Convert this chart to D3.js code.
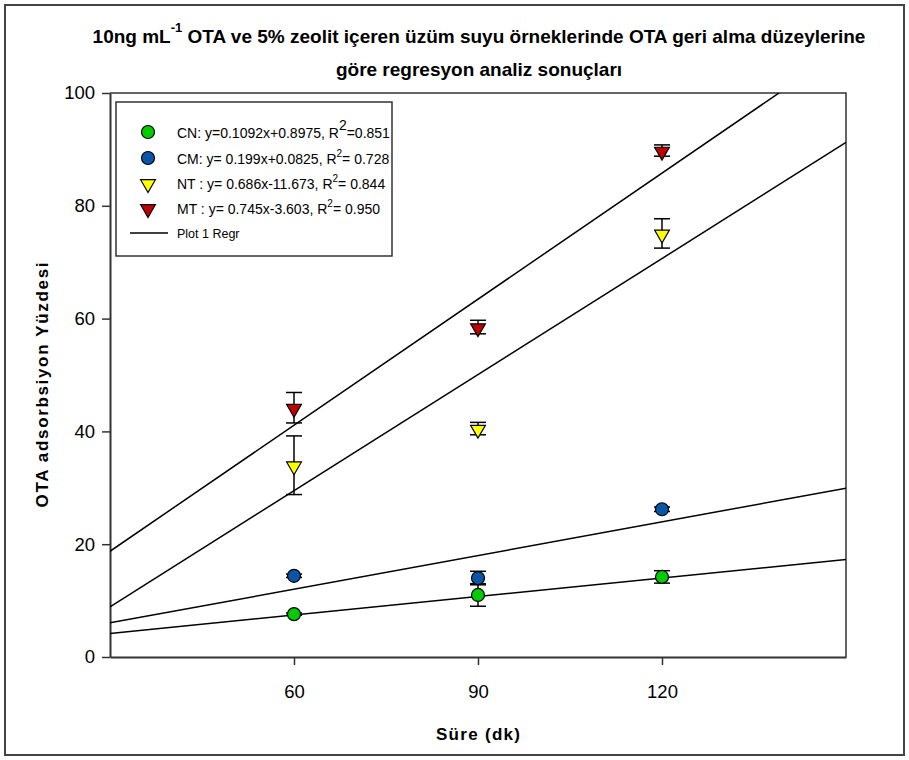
<!DOCTYPE html>
<html>
<head>
<meta charset="utf-8">
<script src="https://cdn.jsdelivr.net/npm/d3@7"></script>
<style>
  body { margin: 0; background: #fff; }
  svg { display: block; font-family: "Liberation Sans", Arial, sans-serif; }
</style>
</head>
<body>
<div id="chart"></div>
<script>
// sampling times (dk)
const times = [60, 90, 120];
const xTicks = [60, 90, 120];
const yTicks = [0, 20, 40, 60, 80, 100];

// mean recovery (%) and error per series
const cnMean = [7.6, 11.0, 14.2];
const cnErr  = [0.2, 2.0, 1.1];
const cmMean = [14.4, 14.0, 26.2];
const cmErr  = [0.3, 1.2, 0.4];
const ntMean = [34.0, 40.5, 75.1];
const ntErr  = [5.2, 1.1, 2.6];
const mtMean = [44.2, 58.5, 89.8];
const mtErr  = [2.7, 1.2, 1.0];

// regression lines from the legend
const slopes     = [0.1092, 0.199, 0.686, 0.745];
const intercepts = [0.8975, 0.0825, -11.673, -3.603];

const names  = ["CN", "CM", "NT", "MT"];
const eqText = ["CN: y=0.1092x+0.8975, R", "CM: y= 0.199x+0.0825, R", "NT : y= 0.686x-11.673, R", "MT :  y= 0.745x-3.603, R"];
const r2Text = ["=0.851", "= 0.728", "= 0.844", "= 0.950"];

var W = 909, H = 760;
var svg = d3.select("#chart").append("svg")
  .attr("width", W).attr("height", H);

// outer frame
svg.append("rect")
  .attr("x", 5).attr("y", 5).attr("width", W - 10).attr("height", H - 10)
  .attr("fill", "none").attr("stroke", "#444").attr("stroke-width", 2);

var x = d3.scaleLinear().domain([30, 150]).range([110, 846]);
var y = d3.scaleLinear().domain([0, 100]).range([657, 93]);

var series = [
  {name: "CN", mean: cnMean, err: cnErr, shape: "circle", fill: "#00cc00"},
  {name: "CM", mean: cmMean, err: cmErr, shape: "circle", fill: "#0a55a5"},
  {name: "NT", mean: ntMean, err: ntErr, shape: "tri", fill: "#ffff00"},
  {name: "MT", mean: mtMean, err: mtErr, shape: "tri", fill: "#c00000"}
];

// title
var title = svg.append("text")
  .attr("x", 479).attr("y", 43)
  .attr("text-anchor", "middle")
  .style("font-weight", "bold").style("font-size", "19px");
title.append("tspan").text("10ng mL");
title.append("tspan").attr("dy", -11).style("font-size", "13px").text("-1");
title.append("tspan").attr("dy", 11).text(" OTA ve 5% zeolit içeren üzüm suyu örneklerinde OTA geri alma düzeylerine");
svg.append("text")
  .attr("x", 479).attr("y", 76)
  .attr("text-anchor", "middle")
  .style("font-weight", "bold").style("font-size", "19px")
  .text("göre regresyon analiz sonuçları");

// clip for regression lines
svg.append("clipPath").attr("id", "plotclip")
  .append("rect").attr("x", 110).attr("y", 93).attr("width", 736).attr("height", 564);

// top and right frame of plot
svg.append("path")
  .attr("d", "M" + x(30) + "," + y(100) + "H" + x(150) + "V" + y(0))
  .attr("fill", "none").attr("stroke", "#333").attr("stroke-width", 1.5);

// axes
var xAxis = svg.append("g")
  .attr("transform", "translate(0," + y(0) + ")")
  .call(d3.axisBottom(x).tickValues(xTicks).tickSize(8).tickPadding(20).tickSizeOuter(0));
var yAxis = svg.append("g")
  .attr("transform", "translate(" + x(30) + ",0)")
  .call(d3.axisLeft(y).tickValues(yTicks).tickSize(8).tickPadding(7).tickSizeOuter(0));
[xAxis, yAxis].forEach(function(a) {
  a.select(".domain").attr("stroke", "#333").attr("stroke-width", 2);
  a.selectAll(".tick line").attr("stroke", "#333").attr("stroke-width", 1.5);
  a.selectAll("text").attr("fill", "#000")
    .style("font-family", "'Liberation Sans', Arial, sans-serif").style("font-size", "18.5px");
});

// axis titles
svg.append("text")
  .attr("transform", "translate(48," + 385 + ") rotate(-90)")
  .attr("text-anchor", "middle")
  .attr("textLength", 245).attr("lengthAdjust", "spacing")
  .style("font-weight", "bold").style("font-size", "17px")
  .text("OTA adsorbsiyon Yüzdesi");
svg.append("text")
  .attr("x", 478).attr("y", 740)
  .attr("text-anchor", "middle")
  .attr("textLength", 84).attr("lengthAdjust", "spacing")
  .style("font-weight", "bold").style("font-size", "17px")
  .text("Süre (dk)");

// regression lines
svg.append("g").attr("clip-path", "url(#plotclip)")
  .selectAll("line")
  .data(slopes)
  .enter()
  .append("line")
    .attr("x1", x(30)).attr("x2", x(150))
    .attr("y1", function(d, i) { return y(d * 30 + intercepts[i]); })
    .attr("y2", function(d, i) { return y(d * 150 + intercepts[i]); })
    .attr("stroke", "#000").attr("stroke-width", 1.5);

var tri = d3.symbol().type(d3.symbolTriangle).size(95);

function drawMarker(g, s, cx, cy) {
  if (s.shape == "circle") {
    g.append("circle").attr("cx", cx).attr("cy", cy).attr("r", 6.5)
      .attr("fill", s.fill).attr("stroke", "#000").attr("stroke-width", 1.2);
  } else {
    g.append("path").attr("d", tri)
      .attr("transform", "translate(" + cx + "," + cy + ") rotate(180)")
      .attr("fill", s.fill).attr("stroke", "#000").attr("stroke-width", 1.2);
  }
}

// error bars and markers
series.forEach(function(s) {
  var g = svg.append("g");
  times.forEach(function(t, i) {
    var cx = x(t);
    var top = y(s.mean[i] + s.err[i]), bot = y(s.mean[i] - s.err[i]);
    g.append("line").attr("x1", cx).attr("x2", cx).attr("y1", top).attr("y2", bot)
      .attr("stroke", "#000").attr("stroke-width", 1.5);
    [top, bot].forEach(function(v) {
      g.append("line").attr("x1", cx - 8).attr("x2", cx + 8).attr("y1", v).attr("y2", v)
        .attr("stroke", "#000").attr("stroke-width", 1.5);
    });
    drawMarker(g, s, cx, y(s.mean[i]) + (s.shape == "tri" ? 1 : 0));
  });
});

// legend
var lg = svg.append("g");
lg.append("rect")
  .attr("x", 116).attr("y", 102).attr("width", 276).attr("height", 154)
  .attr("fill", "#fff").attr("stroke", "#333").attr("stroke-width", 1.5);
var rowY = [132, 158, 183, 208];
series.forEach(function(s, i) {
  drawMarker(lg, s, 148, rowY[i] + (s.shape == "tri" ? 1 : 0));
  var t = lg.append("text")
    .attr("x", 177).attr("y", rowY[i] + 6)
    .style("font-size", "14px");
  t.append("tspan").text(eqText[i]);
  t.append("tspan").attr("dy", i == 0 ? -8 : -7).style("font-size", i == 0 ? "14px" : "10px").text("2");
  t.append("tspan").attr("dy", i == 0 ? 8 : 7).text(r2Text[i]);
});
lg.append("line").attr("x1", 130).attr("x2", 168).attr("y1", 233).attr("y2", 233)
  .attr("stroke", "#000").attr("stroke-width", 1.5);
lg.append("text").attr("x", 177).attr("y", 238)
  .style("font-size", "12.5px")
  .text("Plot 1 Regr");
</script>
</body>
</html>
